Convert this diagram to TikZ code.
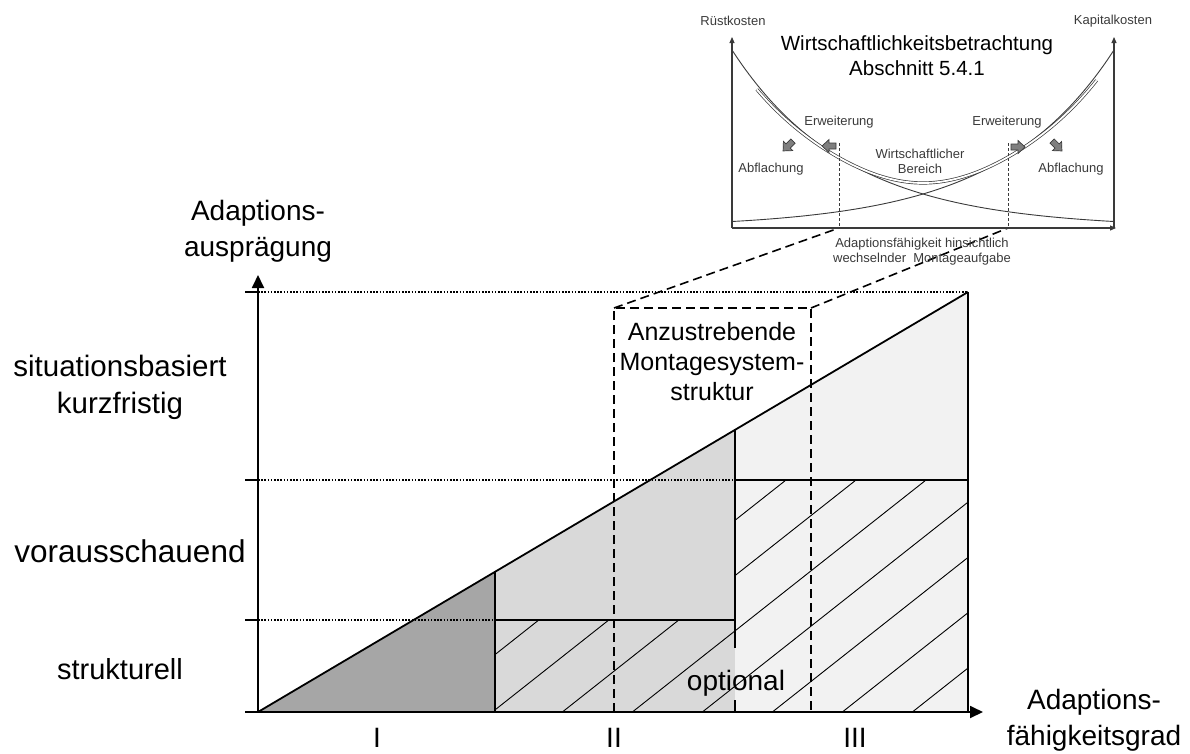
\documentclass[tikz,border=0pt]{standalone}
\usepackage{fontspec}
\setmainfont{Liberation Sans}
\usetikzlibrary{arrows.meta}
\definecolor{fillA}{HTML}{A6A6A6}
\definecolor{fillB}{HTML}{D9D9D9}
\definecolor{fillC}{HTML}{F2F2F2}
\definecolor{inkgray}{HTML}{3A3A3A}
\definecolor{arrowgray}{HTML}{7F7F7F}

\tikzset{
  blockarrow/.pic={
    \filldraw[fill=arrowgray, draw=inkgray, line width=0.7pt]
      (-7,-3) -- (0,-3) -- (0,-6.5) -- (7,0) -- (0,6.5) -- (0,3) -- (-7,3) -- cycle;
  }
}

\begin{document}
\begin{tikzpicture}[x=1pt, y=-1pt,
  mainline/.style={line width=1.8pt, line join=miter},
  guide/.style={line width=1.6pt, dash pattern=on 1.6pt off 1.6pt},
  frame/.style={line width=1.6pt, dash pattern=on 9pt off 5pt},
  hatch/.style={line width=0.9pt},
  bigtext/.style={font=\fontsize{28}{36}\selectfont, align=center, inner sep=0pt},
  boxtext/.style={font=\fontsize{25}{30}\selectfont, align=center, inner sep=0pt},
  curve/.style={line width=0.9pt, draw=inkgray},
  insetaxis/.style={line width=1.1pt, draw=inkgray, -{Triangle[length=6pt,width=5pt]}},
  smalltext/.style={font=\fontsize{13}{15}\selectfont, text=inkgray, align=center, inner sep=0pt},
  titletext/.style={font=\fontsize{20.5}{25}\selectfont, align=center, inner sep=0pt},
  scaledash/.style={line width=0.8pt, draw=inkgray, dash pattern=on 3pt off 2pt},
  bigtip/.style={-{Triangle[length=13pt,width=12pt]}}
]
\useasboundingbox (0,0) rectangle (1190,753);

% key points of the main chart
\coordinate (O) at (258,712);
\coordinate (T) at (968,292);
\coordinate (P1) at (495,571.8);
\coordinate (P2) at (735,429.8);

% stage areas below the diagonal
\fill[fillA] (O) -- (P1) -- (495,712) -- cycle;
\fill[fillB] (P1) -- (P2) -- (735,712) -- (495,712) -- cycle;
\fill[fillC] (P2) -- (T) -- (968,712) -- (735,712) -- cycle;

% hatching of the structural parts
\begin{scope}
  \clip (495,620) rectangle (735,712) (735,480) rectangle (968,712);
  \foreach \k in {-6,...,7}
    \draw[hatch] ({786+70*\k-320},{480+252.8}) -- ({786+70*\k+320},{480-252.8});
\end{scope}

% level guides and ticks
\draw[guide] (258,292) -- (T);
\draw[guide] (258,480) -- (735,480);
\draw[guide] (258,620) -- (495,620);
\draw[mainline] (245,292) -- (258,292);
\draw[mainline] (245,480) -- (258,480);
\draw[mainline] (245,620) -- (258,620);

% stage borders
\draw[mainline] (735,480) -- (968,480);
\draw[mainline] (495,620) -- (735,620);
\draw[mainline] (P1) -- (495,712);
\draw[mainline] (P2) -- (735,648);
\draw[mainline] (735,700) -- (735,712);
\draw[mainline] (T) -- (968,712);
\draw[mainline] (O) -- (T);

% axes
\draw[mainline, bigtip] (245,712) -- (983,712);
\draw[mainline, bigtip] (258,712) -- (258,275);

% target system structure and its projection
\draw[frame] (614,712) -- (614,308) -- (811,308) -- (811,712);
\draw[frame] (614,308) -- (839,228);
\draw[frame] (811,308) -- (1008,228);

% economic view: axes
\draw[insetaxis] (732,228) -- (732,37);
\draw[insetaxis] (1114,228) -- (1114,37);
\draw[insetaxis] (732,228) -- (1116,228);

% cost curves
\draw[curve] plot[domain=0:1, samples=90, smooth] ({732+382*\x},{228-178*exp(-3.31*\x)});
\draw[curve] plot[domain=0:1, samples=90, smooth] ({732+382*\x},{228-178*exp(-3.31*(1-\x))});
\draw[curve, line width=0.7pt, double=white, double distance=1.8pt]
  plot[domain=0.065:0.955, samples=90, smooth]
  ({732+382*\x},{228-178*exp(-3.31*\x)-178*exp(-3.31*(1-\x))+13+10*(sin(180*\x))^4});

% economic range limits
\draw[scaledash] (839,143) -- (839,228);
\draw[scaledash] (1008,143) -- (1008,228);

% shift arrows
\pic[rotate=225] at (788,146) {blockarrow};
\pic[rotate=180] at (829,146) {blockarrow};
\pic at (1018,147) {blockarrow};
\pic[rotate=-45] at (1057,146) {blockarrow};

% inset labels
\node[smalltext] (ruest) at (733,21) {Rüstkosten};
\node[smalltext] (kapital) at (1113,21) {Kapitalkosten};
\node[titletext] (title) at (917,56) {Wirtschaftlichkeitsbetrachtung\\Abschnitt 5.4.1};
\node[smalltext] (erwL) at (839,122) {Erweiterung};
\node[smalltext] (erwR) at (1007,122) {Erweiterung};
\node[smalltext] (abfL) at (771,169) {Abflachung};
\node[smalltext] (abfR) at (1071,169) {Abflachung};
\node[smalltext] (bereich) at (920,161) {Wirtschaftlicher\\Bereich};
\node[smalltext] (xinset) at (922,252) {Adaptionsfähigkeit hinsichtlich\\wechselnder\ \ Montageaufgabe};

% main labels
\node[bigtext] (ylabel) at (258,231) {Adaptions-\\ausprägung};
\node[bigtext, font=\fontsize{29.5}{37}\selectfont] (lvl3) at (120,387) {situationsbasiert\\kurzfristig};
\node[bigtext, font=\fontsize{31.5}{37}\selectfont] (lvl2) at (130,551) {vorausschauend};
\node[bigtext, font=\fontsize{29}{37}\selectfont] (lvl1) at (120,669) {strukturell};
\node[bigtext] (xlabel) at (1094,720) {Adaptions-\\fähigkeitsgrad};
\node[bigtext] (g1) at (377,738) {I};
\node[bigtext] (g2) at (614,738) {II};
\node[bigtext] (g3) at (855,738) {III};
\node[boxtext] (target) at (712,362) {Anzustrebende\\Montagesystem-\\struktur};
\node[bigtext] (opt) at (736,683) {optional};
\end{tikzpicture}
\end{document}
